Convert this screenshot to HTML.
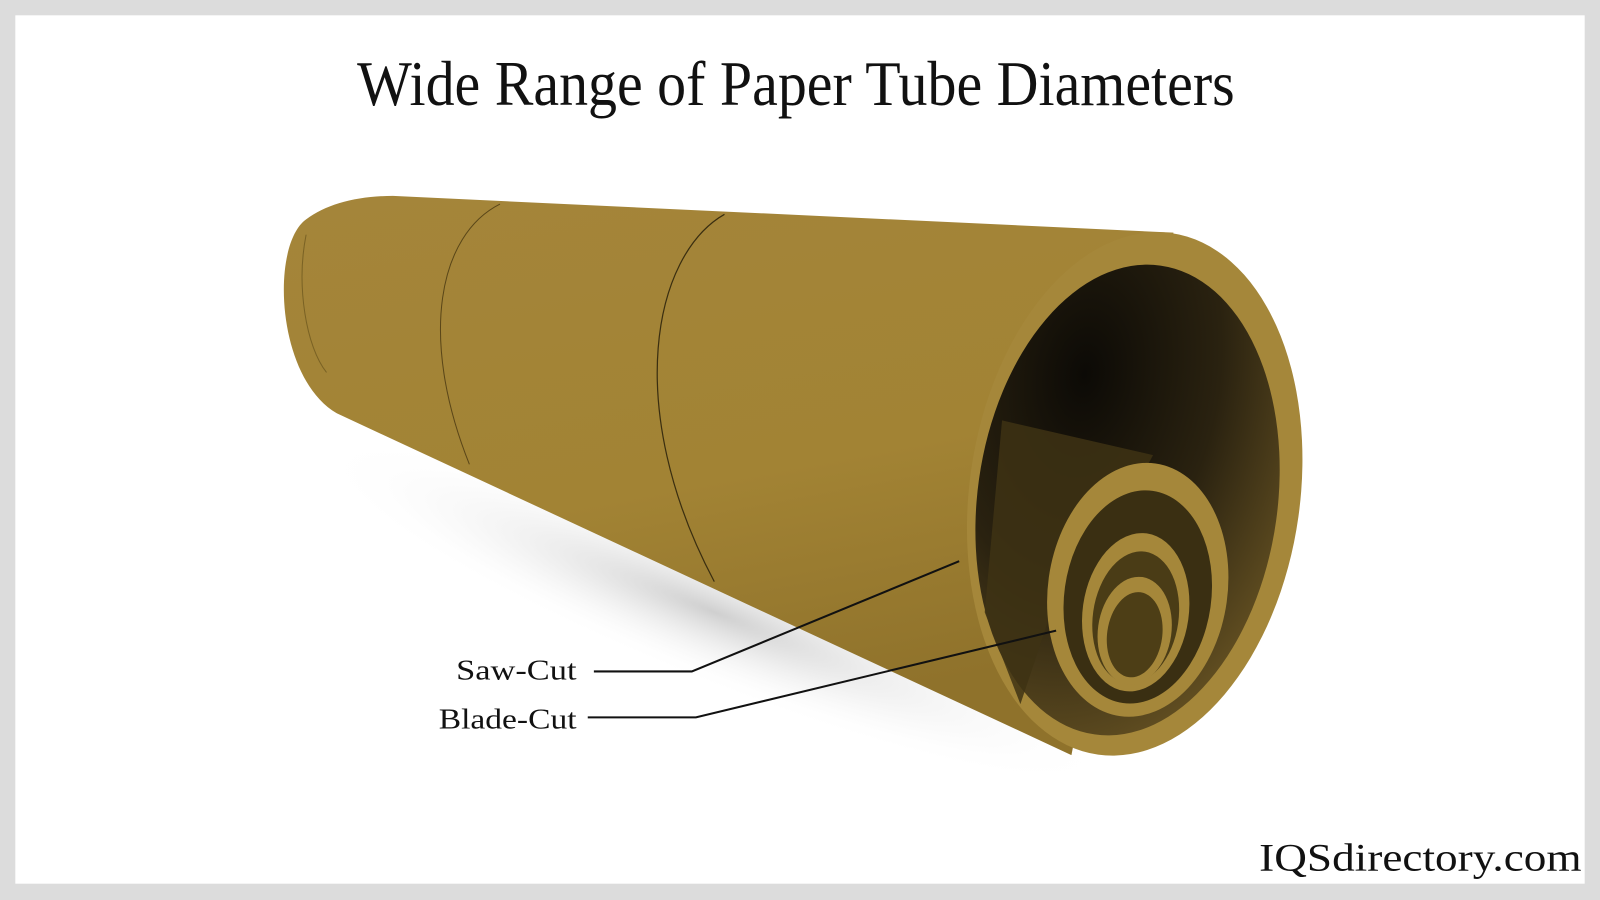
<!DOCTYPE html>
<html><head><meta charset="utf-8"><style>
html,body{margin:0;padding:0;background:#fff}
svg{display:block}
</style></head><body>
<svg width="1600" height="900" viewBox="0 0 1568 882" preserveAspectRatio="none" xmlns="http://www.w3.org/2000/svg">
<defs>
<radialGradient id="sh" cx="0.5" cy="0.5" r="0.5">
<stop offset="0" stop-color="#bbb" stop-opacity="0.7"/>
<stop offset="1" stop-color="#fff" stop-opacity="0"/>
</radialGradient>
<linearGradient id="body" x1="0" y1="0" x2="0.3" y2="1">
<stop offset="0" stop-color="#a4853a"/>
<stop offset="0.6" stop-color="#a28334"/>
<stop offset="1" stop-color="#8f722b"/>
</linearGradient>
<radialGradient id="inner" cx="0.3" cy="0.25" r="0.9">
<stop offset="0" stop-color="#0c0a06"/>
<stop offset="0.5" stop-color="#2a2210"/>
<stop offset="1" stop-color="#6b5624"/>
</radialGradient>
</defs>
<rect width="1568" height="882" fill="#dcdcdc"/>
<rect x="15" y="15" width="1538" height="851" fill="#fff"/>
<ellipse cx="700" cy="600" rx="420" ry="70" transform="rotate(22 700 600)" fill="url(#sh)"/>
<text x="780" y="103" text-anchor="middle" font-family="Liberation Serif, serif" font-size="62" textLength="860" lengthAdjust="spacingAndGlyphs" fill="#111">Wide Range of Paper Tube Diameters</text>
<path d="M385,192 L1150,228 L1050,740 L330,405 C270,370 265,240 300,215 C320,200 350,192 385,192 Z" fill="url(#body)"/>
<path d="M300,230 C290,280 300,340 320,365" fill="none" stroke="#7a6224" stroke-width="1"/>
<path d="M490,200 C430,230 410,330 460,455" fill="none" stroke="#5a4618" stroke-width="1"/>
<path d="M710,210 C640,250 610,400 700,570" fill="none" stroke="#3a2e10" stroke-width="1.2"/>
<ellipse cx="1112" cy="484" rx="162" ry="258" transform="rotate(8 1112 484)" fill="#a5873a"/>
<ellipse cx="1105" cy="490" rx="147" ry="232" transform="rotate(8 1105 490)" fill="url(#inner)"/>
<path d="M982,412 L1130,446 L1090,520 L1030,600 L1000,690 L965,600 Z" fill="#3e3214" opacity="0.85"/>
<ellipse cx="1115" cy="578" rx="88" ry="125" transform="rotate(8 1115 578)" fill="#a5873a"/>
<ellipse cx="1115" cy="585" rx="72" ry="105" transform="rotate(8 1115 585)" fill="#3a2f12"/>
<ellipse cx="1113" cy="600" rx="52" ry="78" transform="rotate(8 1113 600)" fill="#a5873a"/>
<ellipse cx="1113" cy="605" rx="42" ry="65" transform="rotate(8 1113 605)" fill="#4a3c16"/>
<ellipse cx="1112" cy="618" rx="36" ry="53" transform="rotate(8 1112 618)" fill="#a5873a"/>
<ellipse cx="1112" cy="622" rx="27" ry="42" transform="rotate(8 1112 622)" fill="#4d3e16"/>
<polyline points="582,658 678,658 940,550" fill="none" stroke="#111" stroke-width="2"/>
<polyline points="576,703 682,703 1035,618" fill="none" stroke="#111" stroke-width="2"/>
<text x="447" y="666" font-family="Liberation Serif, serif" font-size="28" textLength="118" lengthAdjust="spacingAndGlyphs" fill="#111">Saw-Cut</text>
<text x="430" y="714" font-family="Liberation Serif, serif" font-size="28" textLength="135" lengthAdjust="spacingAndGlyphs" fill="#111">Blade-Cut</text>
<text x="1550" y="853" text-anchor="end" font-family="Liberation Serif, serif" font-size="38" textLength="316" lengthAdjust="spacingAndGlyphs" fill="#111">IQSdirectory.com</text>
</svg>
</body></html>
